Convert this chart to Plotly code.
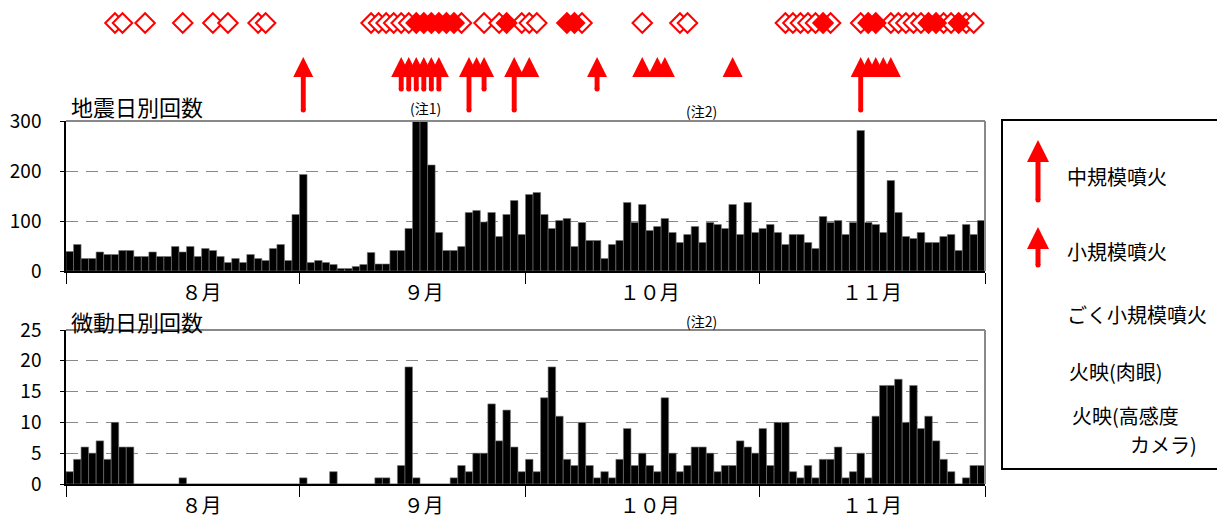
import plotly.graph_objects as go

# daily earthquake counts, Aug 1 - Nov 30 (Sep 16/17 run off the top of the axis)
quake = [39, 53, 25, 25, 38, 33, 33, 41, 41, 29,
         29, 38, 29, 29, 49, 38, 49, 29, 45, 41,
         29, 17, 25, 17, 33, 25, 21, 45, 53, 21,
         113, 193, 17, 21, 17, 13, 5, 5, 9, 13,
         37, 14, 14, 41, 41, 85, 1200, 900, 212, 77,
         41, 41, 49, 117, 121, 98, 117, 69, 113, 141,
         73, 153, 157, 113, 85, 101, 105, 49, 97, 61,
         61, 25, 53, 61, 137, 97, 133, 81, 89, 105,
         77, 57, 73, 89, 57, 97, 93, 85, 133, 73,
         137, 77, 85, 93, 77, 53, 73, 73, 57, 45,
         109, 97, 101, 73, 97, 281, 97, 93, 77, 181,
         117, 69, 65, 77, 57, 57, 69, 73, 41, 93,
         73, 101]

# daily volcanic tremor counts
tremor = [2, 4, 6, 5, 7, 4, 10, 6, 6, 0,
          0, 0, 0, 0, 0, 1, 0, 0, 0, 0,
          0, 0, 0, 0, 0, 0, 0, 0, 0, 0,
          0, 1, 0, 0, 0, 2, 0, 0, 0, 0,
          0, 1, 1, 0, 3, 19, 1, 0, 0, 0,
          0, 1, 3, 2, 5, 5, 13, 7, 12, 6,
          2, 4, 2, 14, 19, 11, 4, 3, 10, 3,
          1, 2, 1, 4, 9, 3, 5, 3, 2, 14,
          5, 2, 3, 6, 6, 5, 2, 3, 3, 7,
          6, 5, 9, 3, 10, 10, 2, 1, 3, 1,
          4, 4, 6, 1, 2, 5, 1, 11, 16, 16,
          17, 10, 16, 9, 11, 7, 4, 2, 0, 1,
          3, 3]

month_labels = ['８月', '９月', '１０月', '１１月']

# event days (index from Aug 1)
medium_days = [31, 53, 59, 105]
small_days = [44, 45, 46, 47, 48, 49, 55, 70]
tiny_days = [54, 61, 76, 78, 79, 88, 106, 107, 108, 109]
glow_open_days = [6, 7, 10, 15, 19, 21, 25, 26, 40, 41, 42, 43, 44, 45, 52,
                  55, 57, 60, 61, 62, 68, 76, 81, 82, 95, 96, 97, 98, 99, 101,
                  105, 109, 110, 111, 112, 113, 116, 117, 119, 120]
glow_filled_days = [46, 47, 48, 49, 50, 51, 58, 66, 67, 100, 106, 107, 114, 115, 118]

days = list(range(len(quake)))
# the page body adds an 8px margin, so the figure is laid out 8px smaller
OFF = 8
W, H = 1225 - OFF, 520 - OFF
FONT = 'Noto Sans CJK JP'
RED = '#ff0000'


def fx(px):
    return (px - OFF) / W


def fy(py):
    return 1 - (py - OFF) / H


plot_dom = [fx(66), fx(985)]
xr = [-0.5, len(days) - 0.5]
bounds = [-0.5, 30.5, 60.5, 91.5, 121.5]
label_pos = [17.5, 47, 77, 106.5]

fig = go.Figure()

bar_style = dict(color='black', line=dict(color='#777', width=0.6))
fig.add_trace(go.Bar(x=days, y=quake, width=1, marker=bar_style, xaxis='x2', yaxis='y2'))
fig.add_trace(go.Bar(x=days, y=tremor, width=1, marker=bar_style, xaxis='x', yaxis='y'))

# eruption arrows: stems as bars, heads as arrow markers (marker-row y = 118 - screen px)
STEM_W = 0.65
fig.add_trace(go.Bar(x=medium_days, y=[37] * len(medium_days), base=8, width=STEM_W,
                     marker=dict(color=RED, line=dict(width=0)), xaxis='x3', yaxis='y3'))
fig.add_trace(go.Bar(x=small_days, y=[16] * len(small_days), base=29, width=STEM_W,
                     marker=dict(color=RED, line=dict(width=0)), xaxis='x3', yaxis='y3'))
fig.add_trace(go.Scatter(x=medium_days, y=[8] * len(medium_days), mode='markers',
                         marker=dict(symbol='circle', size=5, color=RED), xaxis='x3', yaxis='y3'))
fig.add_trace(go.Scatter(x=small_days, y=[29] * len(small_days), mode='markers',
                         marker=dict(symbol='circle', size=5, color=RED), xaxis='x3', yaxis='y3'))
heads = sorted(medium_days + small_days + tiny_days)
fig.add_trace(go.Scatter(x=heads, y=[61] * len(heads), mode='markers',
                         marker=dict(symbol='arrow-up', size=20, color=RED, line=dict(width=0)),
                         xaxis='x3', yaxis='y3'))

# glow diamonds
fig.add_trace(go.Scatter(x=glow_open_days, y=[95] * len(glow_open_days), mode='markers',
                         marker=dict(symbol='diamond', size=15, color='white',
                                     line=dict(color=RED, width=2)),
                         xaxis='x3', yaxis='y3'))
fig.add_trace(go.Scatter(x=glow_filled_days, y=[95] * len(glow_filled_days), mode='markers',
                         marker=dict(symbol='diamond', size=15, color=RED,
                                     line=dict(color=RED, width=2)),
                         xaxis='x3', yaxis='y3'))

# legend glyphs
fig.add_trace(go.Bar(x=[35], y=[45], base=268, width=5, marker=dict(color=RED, line=dict(width=0)),
                     xaxis='x4', yaxis='y4'))
fig.add_trace(go.Bar(x=[35], y=[28], base=203, width=5, marker=dict(color=RED, line=dict(width=0)),
                     xaxis='x4', yaxis='y4'))
fig.add_trace(go.Scatter(x=[35, 35], y=[268, 203], mode='markers',
                         marker=dict(symbol='circle', size=5, color=RED), xaxis='x4', yaxis='y4'))
fig.add_trace(go.Scatter(x=[35, 35], y=[328, 241], mode='markers',
                         marker=dict(symbol='arrow-up', size=22, color=RED, line=dict(width=0)),
                         xaxis='x4', yaxis='y4'))

xcommon = dict(range=xr, showgrid=False, zeroline=False, showline=True, linecolor='black',
               linewidth=1.5, tickmode='array', tickvals=label_pos, ticktext=month_labels,
               ticks='', ticklabelstandoff=3, automargin=False,
               tickfont=dict(size=20, color='black', family=FONT),
               minor=dict(tickmode='array', tickvals=bounds, ticks='outside', ticklen=11,
                          tickcolor='black', tickwidth=1, showgrid=False))
ycommon = dict(showgrid=True, gridcolor='#888', griddash='12px,8px', gridwidth=1,
               zeroline=False, showline=True, linecolor='black', linewidth=1.5,
               ticks='outside', ticklen=4, tickcolor='black', ticklabelstandoff=15,
               automargin=False, tickfont=dict(size=19, color='black', family=FONT))
hidden = dict(visible=False, automargin=False, showgrid=False, zeroline=False)
framed = dict(showline=True, mirror=True, linecolor='black', linewidth=2, showgrid=False,
              zeroline=False, showticklabels=False, ticks='', automargin=False)

fig.update_layout(
    template='none',
    width=W, height=H, margin=dict(l=0, r=0, t=0, b=0, pad=0, autoexpand=False),
    paper_bgcolor='white', plot_bgcolor='white', showlegend=False,
    barmode='overlay', font=dict(family=FONT, color='black'),
    xaxis=dict(domain=plot_dom, anchor='y', **xcommon),
    yaxis=dict(domain=[fy(484), fy(330)], range=[0, 25], tickvals=[0, 5, 10, 15, 20, 25],
               anchor='x', **ycommon),
    xaxis2=dict(domain=plot_dom, anchor='y2', **xcommon),
    yaxis2=dict(domain=[fy(271), fy(121)], range=[0, 300], tickvals=[0, 100, 200, 300],
                anchor='x2', **ycommon),
    xaxis3=dict(domain=plot_dom, anchor='y3', range=xr, **hidden),
    yaxis3=dict(domain=[fy(118), 1], anchor='x3', range=[0, 118 - OFF], **hidden),
    xaxis4=dict(domain=[fx(1003), fx(1222)], anchor='y4', range=[0, 219], **framed),
    yaxis4=dict(domain=[fy(468), fy(121)], anchor='x4', range=[0, 347], **framed),
)

# gray top/right frame of both panels
for ax in ['x', 'x2']:
    yref = 'y domain' if ax == 'x' else 'y2 domain'
    fig.add_shape(type='line', xref=ax + ' domain', yref=yref, x0=0, x1=1, y0=1, y1=1,
                  line=dict(color='#888', width=2))
    fig.add_shape(type='line', xref=ax + ' domain', yref=yref, x0=1, x1=1, y0=0, y1=1,
                  line=dict(color='#888', width=2))

notes = [
    ('地震日別回数', fx(69), fy(106), 22),
    ('微動日別回数', fx(69), fy(321), 22),
]
for text, x, y, size in notes:
    fig.add_annotation(text=text, x=x, y=y, xref='paper', yref='paper', xanchor='left',
                       yanchor='middle', showarrow=False, font=dict(size=size, family=FONT))

for text, x, y in [('(注1)', fx(425), fy(108)), ('(注2)', fx(701), fy(111)),
                   ('(注2)', fx(701), fy(321))]:
    fig.add_annotation(text=text, x=x, y=y, xref='paper', yref='paper', xanchor='center',
                       yanchor='middle', showarrow=False, font=dict(size=14, family=FONT))

legend_items = [
    ('中規模噴火', 62, 292),
    ('小規模噴火', 62, 217),
    ('ごく小規模噴火', 62, 154),
    ('火映(肉眼)', 64, 97),
    ('火映(高感度', 67, 53),
    ('カメラ)', 125, 24),
]
for text, x, y in legend_items:
    fig.add_annotation(text=text, x=x, y=y, xref='x4', yref='y4', xanchor='left',
                       yanchor='middle', showarrow=False, font=dict(size=20, family=FONT))

fig.write_html("out.html")
